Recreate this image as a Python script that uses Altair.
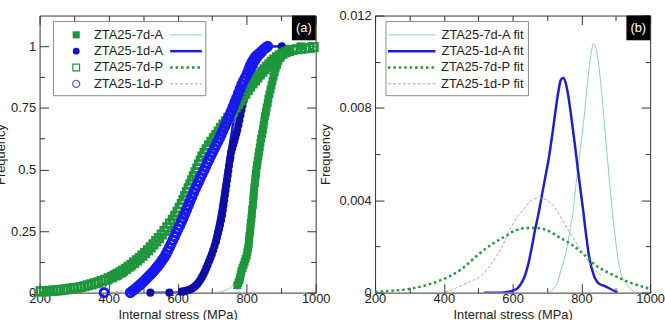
import altair as alt
import pandas as pd

FONT = "Liberation Sans"
TXT = "#222222"

# ---------------- data: panel (a) empirical distributions ----------------
A7_STRESS = [773, 776, 779, 781, 783, 785, 788, 791, 794, 797, 800, 802, 804, 806, 807, 808, 810, 811, 812, 814,
             815, 816, 818, 819, 820, 821, 822, 824, 825, 827, 828, 830, 832, 834, 836, 838, 840, 842, 845, 847,
             849, 851, 853, 856, 858, 861, 863, 866, 869, 872, 875, 878, 881, 884, 888, 892, 897, 902, 908, 914,
             925, 956]
A7_FREQ = [0.03, 0.04, 0.05, 0.062, 0.075, 0.088, 0.1, 0.112, 0.124, 0.137, 0.15, 0.165, 0.18, 0.196, 0.213, 0.23, 0.248, 0.266, 0.284, 0.302,
           0.32, 0.338, 0.356, 0.374, 0.392, 0.41, 0.428, 0.446, 0.464, 0.482, 0.5, 0.518, 0.536, 0.554, 0.572, 0.59, 0.608, 0.626, 0.644, 0.662,
           0.68, 0.698, 0.716, 0.734, 0.752, 0.77, 0.788, 0.806, 0.824, 0.842, 0.86, 0.877, 0.894, 0.91, 0.925, 0.94, 0.953, 0.965, 0.976, 0.985,
           0.99, 1.0]

A1_STRESS = [521, 576, 612, 618, 624, 630, 636, 642, 647, 652, 657, 662, 667, 671, 675, 679, 683, 687, 691, 695,
             699, 703, 707, 711, 714, 717, 720, 723, 726, 729, 731, 733, 735, 737, 739, 741, 743, 745, 747, 749,
             751, 753, 755, 758, 761, 764, 767, 770, 773, 776, 779, 782, 785, 788, 791, 794, 797, 801, 805, 809,
             814, 819, 825, 832, 840, 850, 902]
A1_FREQ = [0.0, 0.0, 0.004, 0.006, 0.008, 0.01, 0.013, 0.017, 0.022, 0.028, 0.035, 0.044, 0.054, 0.064, 0.075, 0.087, 0.1, 0.113, 0.127, 0.141,
           0.156, 0.172, 0.189, 0.207, 0.224, 0.241, 0.258, 0.276, 0.295, 0.315, 0.335, 0.355, 0.375, 0.395, 0.415, 0.435, 0.455, 0.475, 0.495, 0.515,
           0.535, 0.55, 0.57, 0.585, 0.6, 0.615, 0.63, 0.645, 0.66, 0.68, 0.7, 0.72, 0.74, 0.76, 0.78, 0.8, 0.82, 0.84, 0.86, 0.88,
           0.9, 0.92, 0.94, 0.96, 0.975, 0.988, 1.0]

P7_STRESS = [203, 212, 221, 230, 240, 250, 260, 270, 280, 290, 300, 310, 320, 330, 340, 350, 360, 370, 380, 390, 400,
             410, 418, 426, 434, 442, 450, 458, 466, 474, 482, 490, 498, 506, 514, 522, 530, 538, 546, 554, 562, 570, 578, 586, 593, 600,
             606, 612, 617, 622, 627, 632, 637, 642, 647, 652, 657, 662, 667, 672, 678, 684, 691, 698,
             705, 712, 719, 726, 733, 740, 747, 754, 761, 768, 775, 782, 789, 796, 803, 810, 817, 824, 831, 838, 845,
             852, 859, 866, 873, 880, 888, 896, 904, 913, 923, 934, 946, 958, 970, 982, 994]
P7_FREQ = [0.005, 0.005, 0.006, 0.007, 0.008, 0.009, 0.01, 0.012, 0.014, 0.016, 0.018, 0.02, 0.023, 0.026, 0.03, 0.034, 0.038, 0.042, 0.047, 0.052, 0.058,
           0.064, 0.07, 0.076, 0.082, 0.089, 0.097, 0.105, 0.113, 0.122, 0.131, 0.14, 0.15, 0.161, 0.172, 0.184, 0.196, 0.209, 0.222, 0.236, 0.25, 0.265, 0.28, 0.296, 0.312, 0.328,
           0.344, 0.36, 0.376, 0.392, 0.408, 0.424, 0.44, 0.456, 0.472, 0.488, 0.504, 0.52, 0.536, 0.552, 0.567, 0.582, 0.597, 0.612,
           0.626, 0.64, 0.654, 0.668, 0.682, 0.696, 0.71, 0.724, 0.738, 0.752, 0.766, 0.78, 0.794, 0.808, 0.822, 0.836, 0.849, 0.862, 0.874, 0.886, 0.897,
           0.907, 0.917, 0.927, 0.937, 0.946, 0.955, 0.963, 0.97, 0.976, 0.981, 0.985, 0.988, 0.99, 0.992, 0.994, 0.997]

P1_STRESS = [387, 463, 470, 476, 481, 486, 491, 496, 501, 506, 511, 516, 521, 526, 531, 536, 541, 546, 551, 556,
             561, 566, 571, 576, 581, 586, 591, 596, 601, 606, 611, 616, 621, 626, 631, 636, 641, 646, 651, 656,
             661, 666, 671, 676, 681, 686, 691, 696, 701, 706, 711, 716, 721, 726, 731, 736, 741, 746, 751, 756,
             761, 766, 771, 776, 781, 786, 791, 796, 801, 806, 811, 816, 821, 826, 831, 836, 841, 846, 851, 856, 861]
P1_FREQ = [0.0, 0.0, 0.008, 0.014, 0.02, 0.026, 0.032, 0.038, 0.045, 0.052, 0.059, 0.066, 0.073, 0.08, 0.088, 0.096, 0.105, 0.114, 0.123, 0.133,
           0.143, 0.155, 0.169, 0.183, 0.198, 0.213, 0.228, 0.243, 0.258, 0.272, 0.287, 0.303, 0.32, 0.337, 0.354, 0.371, 0.388, 0.405, 0.421, 0.436,
           0.451, 0.466, 0.481, 0.496, 0.511, 0.526, 0.541, 0.556, 0.57, 0.584, 0.598, 0.612, 0.626, 0.641, 0.657, 0.673, 0.689, 0.705, 0.721, 0.737,
           0.755, 0.773, 0.791, 0.809, 0.827, 0.845, 0.86, 0.873, 0.886, 0.899, 0.912, 0.925, 0.937, 0.948, 0.958, 0.967, 0.975, 0.983, 0.99, 0.995, 1.0]

# ---------------- data: fitted cumulative curves (panel a) ----------------
A7_CDF_S = [707, 720, 740, 760, 770, 780, 790, 800, 810, 820, 830, 840, 850, 860, 870, 880, 890, 900, 914, 935, 957]
A7_CDF_F = [0, 0.002, 0.01, 0.03, 0.055, 0.09, 0.14, 0.2, 0.28, 0.37, 0.47, 0.58, 0.68, 0.77, 0.85, 0.91, 0.95, 0.975, 0.99, 0.998, 1.0]
A1_CDF_S = [517, 560, 603, 620, 640, 660, 675, 690, 700, 710, 720, 730, 740, 750, 760, 770, 780, 790, 800, 812, 825, 840, 860, 880, 905]
A1_CDF_F = [0, 0, 0.001, 0.004, 0.016, 0.046, 0.085, 0.14, 0.19, 0.25, 0.32, 0.41, 0.5, 0.59, 0.68, 0.76, 0.83, 0.89, 0.93, 0.96, 0.98, 0.992, 0.997, 0.999, 1.0]
P7_CDF_S = [200, 250, 300, 350, 400, 450, 500, 550, 600, 650, 700, 750, 800, 850, 900, 950, 1000]
P7_CDF_F = [0.001, 0.003, 0.008, 0.016, 0.035, 0.07, 0.13, 0.22, 0.34, 0.48, 0.62, 0.75, 0.85, 0.92, 0.96, 0.98, 0.99]
P1_CDF_S = [390, 420, 450, 480, 510, 540, 570, 600, 630, 660, 690, 720, 750, 780, 810, 840, 862]
P1_CDF_F = [0.001, 0.004, 0.009, 0.02, 0.041, 0.077, 0.13, 0.21, 0.31, 0.43, 0.55, 0.66, 0.77, 0.85, 0.91, 0.95, 0.97]

# ---------------- data: fitted densities (panel b) ----------------
A7_PDF_S = [707, 720, 730, 741, 750, 760, 770, 776, 780, 790, 800, 810, 815, 820, 825, 830, 835, 840, 845, 850, 860, 870, 880, 890, 900, 914, 935, 957]
A7_PDF_D = [0, 0.0002, 0.0004, 0.001, 0.0014, 0.0021, 0.003, 0.0035, 0.0041, 0.0054, 0.0066, 0.0079, 0.0087, 0.0094, 0.01, 0.0105, 0.0108, 0.0107, 0.0104, 0.0099, 0.0085, 0.0068, 0.0051, 0.0035, 0.0022, 0.0009, 0.0003, 0]
A1_PDF_S = [517, 560, 590, 603, 615, 625, 635, 645, 655, 665, 675, 685, 695, 705, 715, 725, 733, 740, 747, 754,
            761, 768, 775, 782, 790, 797, 804, 812, 822, 835, 850, 865, 879, 905]
A1_PDF_D = [0, 0, 0.00004, 0.0001, 0.0002, 0.0004, 0.0007, 0.0012, 0.0019, 0.0027, 0.0034, 0.0042, 0.005, 0.0058, 0.0068, 0.0079, 0.0087, 0.0092, 0.0093, 0.0091,
            0.0086, 0.0079, 0.0071, 0.0063, 0.0053, 0.0045, 0.0037, 0.0027, 0.0016, 0.0008, 0.0004, 0.0003, 0.0002, 0]
P7_PDF_S = [200, 250, 304, 350, 401, 450, 496, 540, 574, 610, 640, 655, 670, 700, 735, 770, 804, 840, 879, 915, 948, 980, 1000]
P7_PDF_D = [0.00003, 0.00008, 0.00017, 0.00033, 0.0006, 0.001, 0.0016, 0.0021, 0.0024, 0.0027, 0.0028, 0.0028, 0.0028, 0.0027, 0.0024, 0.0021, 0.0017, 0.0012, 0.00086, 0.0006, 0.0004, 0.00025, 0.00017]
P1_PDF_S = [390, 420, 450, 480, 496, 520, 545, 570, 591, 610, 632, 655, 678, 700, 727, 750, 775, 800, 822, 845, 862]
P1_PDF_D = [0, 0.0001, 0.0003, 0.0005, 0.0006, 0.0009, 0.0014, 0.002, 0.0027, 0.0032, 0.0036, 0.004, 0.0041, 0.004, 0.0036, 0.003, 0.0024, 0.0018, 0.0013, 0.0009, 0.0007]

# ---------------- labels / ticks ----------------
LEG_A = ["ZTA25-7d-A", "ZTA25-1d-A", "ZTA25-7d-P", "ZTA25-1d-P"]
LEG_B = ["ZTA25-7d-A fit", "ZTA25-1d-A fit", "ZTA25-7d-P fit", "ZTA25-1d-P fit"]
X_MAJOR = [200, 400, 600, 800, 1000]
X_MINOR = [300, 500, 700, 900]
YA_MAJOR = [0, 0.25, 0.5, 0.75, 1]
YA_MINOR = [0.125, 0.375, 0.625, 0.875]
YB_MAJOR = [0, 0.004, 0.008, 0.012]
YB_MINOR = [0.002, 0.006, 0.01]

GREEN = "#1e963c"
LGREEN = "#8fd0ab"
BLUE = "#1c1cd8"
BRIGHT = "#1818f2"
NAVY = "#0e0ea6"
PURPLE = "#5555c8"
GRAY = "#a6a6b0"

W, H = 279, 280
XS = alt.Scale(domain=[200, 1000], nice=False, zero=False)
YA = alt.Scale(domain=[0, 1.125], nice=False, zero=False)
YB = alt.Scale(domain=[0, 0.012], nice=False, zero=False)


def df_of(s, f):
    return pd.DataFrame({"s": s, "f": f, "o": list(range(len(s)))})


def line(s, f, ys, color, width, dash=None):
    kw = dict(color=color, strokeWidth=width, clip=True, strokeCap="butt", interpolate="monotone")
    if dash:
        kw["strokeDash"] = dash
    return alt.Chart(df_of(s, f)).mark_line(**kw).encode(
        x=alt.X("s:Q", scale=XS, axis=None),
        y=alt.Y("f:Q", scale=ys, axis=None),
        order="o:Q",
    )


def points(s, f, ys, shape, filled, color, size, sw=1.0):
    kw = dict(shape=shape, filled=filled, color=color, size=size, opacity=1, strokeWidth=sw)
    return alt.Chart(df_of(s, f)).mark_point(**kw).encode(
        x=alt.X("s:Q", scale=XS, axis=None),
        y=alt.Y("f:Q", scale=ys, axis=None),
    )


def axes(ys, xorient, yorient, yvals, xvals, size, show, yfmt, xtitle=None, ytitle=None, ytpad=2):
    xa = dict(orient=xorient, values=xvals, tickSize=size, offset=-size, domain=False, grid=False,
              labels=show, tickColor="#333333", labelFlush=False, labelOverlap=False, format="d",
              labelPadding=0, titlePadding=3)
    ya = dict(orient=yorient, values=yvals, tickSize=size, offset=-size, domain=False, grid=False,
              labels=show, tickColor="#333333", labelOverlap=False, format=yfmt,
              labelPadding=4, titlePadding=ytpad)
    return alt.Chart(pd.DataFrame({"s": [200], "f": [0]})).mark_point(opacity=0).encode(
        x=alt.X("s:Q", scale=XS, axis=alt.Axis(**xa), title=xtitle),
        y=alt.Y("f:Q", scale=ys, axis=alt.Axis(**ya), title=ytitle),
    )


def one():
    return pd.DataFrame({"a": [0]})


def box(x1, x2, y1, y2, fill, stroke=None):
    kw = dict(fill=fill)
    if stroke:
        kw.update(stroke=stroke, strokeWidth=1)
    return alt.Chart(one()).mark_rect(**kw).encode(
        x=alt.value(x1), x2=alt.value(x2), y=alt.value(y1), y2=alt.value(y2))


def text(x, y, t, color=TXT, align="left"):
    return alt.Chart(one()).mark_text(font=FONT, fontSize=13, color=color, align=align,
                                      baseline="middle").encode(
        x=alt.value(x), y=alt.value(y), text=alt.value(t))


def sym(x, y, shape, filled, color, size, sw=1.0):
    return alt.Chart(one()).mark_point(shape=shape, filled=filled, color=color, size=size,
                                       opacity=1, strokeWidth=sw).encode(
        x=alt.value(x), y=alt.value(y))


def seg(x1, x2, y, color, width, dash=None):
    kw = dict(color=color, strokeWidth=width, strokeCap="butt")
    if dash:
        kw["strokeDash"] = dash
    return alt.Chart(one()).mark_rule(**kw).encode(x=alt.value(x1), x2=alt.value(x2), y=alt.value(y))


ROWS = [19.5, 36, 52.5, 69]

# ---------------- panel (a) ----------------
layers_a = [
    line(A7_CDF_S, A7_CDF_F, YA, LGREEN, 1),
    line(A1_CDF_S, A1_CDF_F, YA, BLUE, 2.5),
    line(P7_CDF_S, P7_CDF_F, YA, GREEN, 2.5, [2.5, 3]),
    line(P1_CDF_S, P1_CDF_F, YA, GRAY, 1, [3, 2]),
    points(A7_STRESS, A7_FREQ, YA, "square", True, GREEN, 64),
    points(A1_STRESS, A1_FREQ, YA, "circle", True, NAVY, 66),
    points(P7_STRESS, P7_FREQ, YA, "square", False, GREEN, 60, 2.5),
    points(P1_STRESS, P1_FREQ, YA, "circle", False, BRIGHT, 66, 3.0),
    axes(YA, "bottom", "left", YA_MAJOR, X_MAJOR, 9, True, ".2~f", "Internal stress (MPa)", "Frequency", 3),
    axes(YA, "bottom", "left", YA_MINOR, X_MINOR, 5, False, ".2~f"),
    axes(YA, "top", "right", YA_MAJOR, X_MAJOR, 9, False, ".2~f"),
    axes(YA, "top", "right", YA_MINOR, X_MINOR, 5, False, ".2~f"),
    box(14, 168, 6, 81, "white", "#8a8a8a"),
    sym(37, ROWS[0], "square", True, GREEN, 52),
    sym(37, ROWS[1], "circle", True, "#1212cc", 48),
    sym(37, ROWS[2], "square", False, GREEN, 46, 1.2),
    sym(37, ROWS[3], "circle", False, PURPLE, 52, 1.2),
    seg(132, 164, ROWS[0], LGREEN, 1),
    seg(132, 164, ROWS[1], BLUE, 2.5),
    seg(132, 164, ROWS[2], GREEN, 2.5, [2.5, 3]),
    seg(132, 164, ROWS[3], GRAY, 1, [3, 2]),
    box(255, 279, 0, 25, "black"),
    text(267, 13, "(a)", "white", "center"),
]
for i, lab in enumerate(LEG_A):
    layers_a.append(text(55, ROWS[i], lab))

panel_a = alt.layer(*layers_a).resolve_axis(x="independent", y="independent").properties(width=W, height=H)

# ---------------- panel (b) ----------------
layers_b = [
    line(A7_PDF_S, A7_PDF_D, YB, LGREEN, 1),
    line(A1_PDF_S, A1_PDF_D, YB, BLUE, 2.5),
    line(P7_PDF_S, P7_PDF_D, YB, GREEN, 2.5, [2.5, 3]),
    line(P1_PDF_S, P1_PDF_D, YB, GRAY, 1, [3, 2]),
    axes(YB, "bottom", "left", YB_MAJOR, X_MAJOR, 9, True, ".3~f", "Internal stress (MPa)", "Frequency", 6),
    axes(YB, "bottom", "left", YB_MINOR, X_MINOR, 5, False, ".3~f"),
    axes(YB, "top", "right", YB_MAJOR, X_MAJOR, 9, False, ".3~f"),
    axes(YB, "top", "right", YB_MINOR, X_MINOR, 5, False, ".3~f"),
    box(11, 155, 6, 81, "white", "#8a8a8a"),
    seg(13, 61, ROWS[0], LGREEN, 1),
    seg(13, 61, ROWS[1], BLUE, 2.5),
    seg(13, 61, ROWS[2], GREEN, 2.5, [2.5, 3]),
    seg(13, 61, ROWS[3], GRAY, 1, [3, 2]),
    box(254, 278, 0, 25, "black"),
    text(266, 13, "(b)", "white", "center"),
]
for i, lab in enumerate(LEG_B):
    layers_b.append(text(150, ROWS[i], lab, align="right"))

panel_b = alt.layer(*layers_b).resolve_axis(x="independent", y="independent").properties(width=278, height=H)

chart = alt.hconcat(panel_a, panel_b, spacing=60, bounds="flush").properties(
    padding={"left": -6, "top": 7, "right": 0, "bottom": 0},
).configure_axis(
    labelFont=FONT, titleFont=FONT, labelFontSize=13, titleFontSize=13,
    titleFontWeight="normal", labelColor=TXT, titleColor=TXT,
).configure_view(stroke="#333333", strokeWidth=1)

chart.save("out.html", embed_options={"renderer": "svg", "actions": False})
